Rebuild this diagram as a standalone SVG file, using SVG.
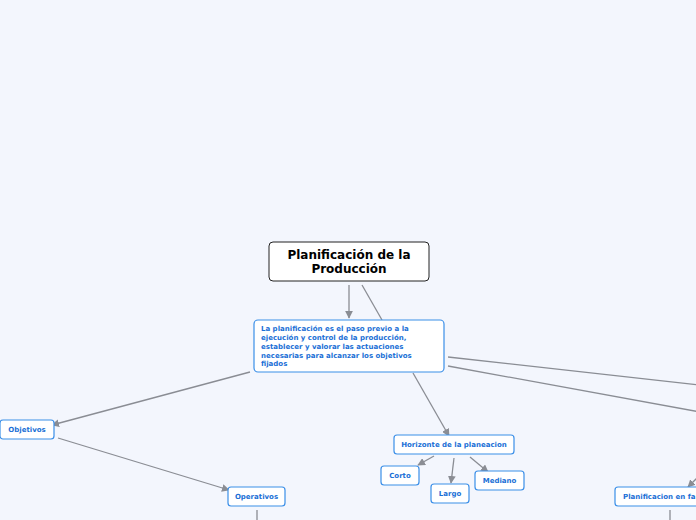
<svg xmlns="http://www.w3.org/2000/svg" width="696" height="520" viewBox="0 0 696 520">
<style>
.n{fill:#fff;stroke:#3b8fe8;stroke-width:1.2}
.t{font-family:"DejaVu Sans",sans-serif;font-weight:bold;font-size:7px;fill:#1a6fd6}
.c{stroke:#8a8d94;stroke-width:1.3;fill:none}
</style>
<defs><marker id="a" viewBox="0 0 10 10" refX="9" refY="5" markerWidth="6" markerHeight="6" orient="auto"><path d="M0,0L10,5L0,10z" fill="#8a8d94"/></marker></defs>
<rect width="696" height="520" fill="#f3f6fd"/>
<g id="connectors">
<path class="c" d="M349,285V318" marker-end="url(#a)"/>
<path class="c" d="M362,285L382,320"/>
<path class="c" d="M250,372L52,425" marker-end="url(#a)"/>
<path class="c" d="M58,438L229,490" marker-end="url(#a)"/>
<path class="c" d="M413,373L449,436" marker-end="url(#a)"/>
<path class="c" d="M448,357L700,385"/>
<path class="c" d="M448,366L700,412"/>
<path class="c" d="M700,475L688,487" marker-end="url(#a)"/>
<path class="c" d="M434,456L418,465" marker-end="url(#a)"/>
<path class="c" d="M454,458L451,483" marker-end="url(#a)"/>
<path class="c" d="M470,457L488,472" marker-end="url(#a)"/>
<path class="c" d="M257,510V520M670,510V520"/>
</g>
<g id="main"><rect x="269" y="242" width="160" height="39" rx="4" fill="#fff" stroke="#222" stroke-width="1"/>
<text x="349" y="259" text-anchor="middle" font-family="DejaVu Sans,sans-serif" font-weight="bold" font-size="12">Planificación de la</text>
<text x="349" y="273" text-anchor="middle" font-family="DejaVu Sans,sans-serif" font-weight="bold" font-size="12">Producción</text></g>
<g id="def"><rect class="n" x="254" y="320" width="190" height="52" rx="4"/>
<text class="t"><tspan x="261" y="331">La planificación es el paso previo a la</tspan><tspan x="261" y="340">ejecución y control de la producción,</tspan><tspan x="261" y="349">establecer y valorar las actuaciones</tspan><tspan x="261" y="358">necesarias para alcanzar los objetivos</tspan><tspan x="261" y="366">fijados</tspan></text></g>
<g id="objetivos"><rect class="n" x="0" y="420" width="54" height="19" rx="3"/><text class="t" x="27" y="432" text-anchor="middle">Objetivos</text></g>
<g id="operativos"><rect class="n" x="228" y="487" width="57" height="19" rx="3"/><text class="t" x="256.5" y="499" text-anchor="middle">Operativos</text></g>
<g id="horizonte"><rect class="n" x="394" y="435" width="120" height="19" rx="3"/><text class="t" x="454" y="447" text-anchor="middle">Horizonte de la planeacion</text></g>
<g id="corto"><rect class="n" x="381" y="466" width="38" height="19" rx="3"/><text class="t" x="400" y="478" text-anchor="middle">Corto</text></g>
<g id="largo"><rect class="n" x="431" y="484" width="38" height="19" rx="3"/><text class="t" x="450" y="496" text-anchor="middle">Largo</text></g>
<g id="mediano"><rect class="n" x="475" y="471" width="49" height="19" rx="3"/><text class="t" x="499.5" y="483" text-anchor="middle">Mediano</text></g>
<g id="planfa"><rect class="n" x="615" y="487" width="100" height="19" rx="3"/><text class="t" x="623" y="499">Planificacion en fa</text></g>
</svg>
